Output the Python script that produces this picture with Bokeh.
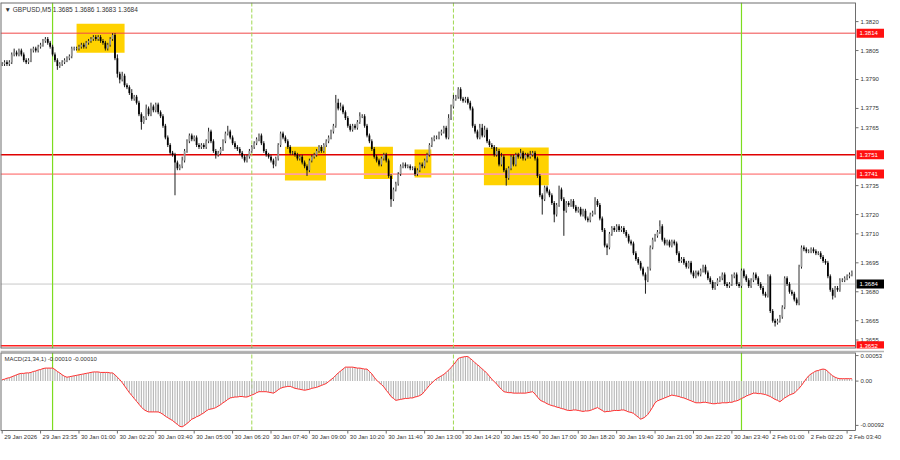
import math
from bokeh.plotting import figure
from bokeh.layouts import column
from bokeh.models import Range1d, ColumnDataSource
from bokeh.core.properties import value
from bokeh.embed import file_html
from bokeh.resources import INLINE

# ---------------- data (prices in pips above 1.3600) ----------------
BASE = 1.3600
PIP = 0.0001
first_open_pips = 198
close_pips = [
    198, 199, 198, 199, 203, 204, 203, 205, 203, 200,
    199, 200, 205, 206, 205, 207, 208, 210, 211, 209,
    207, 203, 200, 197, 198, 199, 200, 201, 202, 206,
    206, 206, 207, 208, 207, 209, 210, 211, 212, 211,
    212, 210, 209, 206, 208, 211, 213, 201, 193, 190,
    192, 187, 186, 183, 180, 181, 178, 172, 168, 170,
    175, 172, 176, 174, 177, 173, 171, 166, 160, 156,
    152, 151, 147, 144, 145, 148, 153, 158, 161, 159,
    160, 156, 155, 156, 155, 158, 163, 158, 153, 151,
    152, 154, 158, 162, 163, 160, 157, 155, 154, 152,
    150, 148, 150, 153, 155, 157, 159, 161, 157, 153,
    151, 150, 148, 146, 149, 156, 162, 160, 158, 155,
    152, 152, 151, 149, 150, 147, 145, 143, 148, 150,
    151, 153, 155, 153, 156, 158, 160, 163, 166, 178,
    175, 176, 173, 170, 166, 164, 166, 165, 168, 171,
    171, 166, 161, 158, 154, 150, 148, 146, 149, 151,
    148, 140, 128, 133, 136, 141, 145, 146, 145, 145,
    144, 144, 141, 143, 146, 145, 148, 151, 156, 159,
    160, 160, 162, 163, 165, 160, 170, 176, 180, 181,
    185, 180, 179, 180, 178, 175, 166, 163, 160, 165,
    161, 164, 158, 156, 155, 151, 153, 146, 150, 143,
    139, 144, 150, 146, 151, 150, 152, 149, 151, 150,
    151, 152, 149, 140, 130, 128, 134, 132, 130, 126,
    120, 125, 133, 128, 122, 126, 125, 127, 124, 122,
    123, 120, 122, 118, 117, 120, 121, 127, 125, 118,
    112, 104, 103, 110, 113, 112, 114, 112, 113, 111,
    109, 106, 105, 100, 97, 95, 92, 89, 86, 92,
    103, 107, 109, 111, 114, 107, 105, 106, 104, 106,
    105, 100, 96, 97, 95, 93, 95, 90, 88, 90,
    89, 91, 93, 90, 87, 85, 82, 84, 86, 87,
    89, 84, 83, 84, 88, 89, 84, 83, 91, 88,
    86, 83, 86, 89, 87, 84, 82, 79, 78, 88,
    70, 65, 64, 65, 67, 72, 87, 84, 80, 79,
    76, 74, 93, 103, 102, 101, 101, 102, 101, 100,
    100, 98, 96, 95, 88, 81, 78, 82, 81, 86,
    86, 87, 88, 89, 90,
]
upper_wick_pips = [
    1, 1, 1, 1, 1, 2, 1, 1, 1, 1, 1, 1, 1, 1, 1, 1, 1, 1, 1, 1,
    1, 1, 1, 1, 1, 1, 1, 1, 1, 1, 1, 1, 1, 1, 1, 1, 1, 1, 1, 1,
    1, 1, 1, 1, 1, 1, 1, 1, 2, 1, 2, 1, 1, 1, 2, 1, 1, 1, 1, 1,
    2, 1, 2, 1, 1, 1, 1, 1, 1, 1, 1, 1, 1, 1, 1, 2, 1, 1, 1, 1,
    1, 1, 1, 1, 1, 1, 2, 1, 1, 1, 1, 1, 1, 1, 3, 1, 1, 1, 1, 1,
    1, 1, 1, 1, 1, 1, 1, 1, 1, 1, 1, 1, 1, 1, 1, 1, 1, 1, 1, 1,
    1, 1, 1, 1, 1, 1, 1, 1, 1, 1, 1, 1, 1, 1, 1, 1, 1, 1, 1, 4,
    2, 2, 1, 1, 1, 1, 1, 1, 1, 2, 1, 1, 1, 1, 1, 1, 1, 1, 1, 1,
    1, 1, 1, 1, 1, 1, 1, 1, 1, 1, 1, 1, 1, 1, 1, 1, 1, 1, 1, 1,
    1, 1, 1, 1, 1, 1, 2, 1, 2, 1, 1, 1, 1, 1, 1, 1, 1, 1, 1, 2,
    2, 2, 1, 1, 1, 1, 2, 1, 2, 1, 1, 1, 1, 1, 1, 1, 2, 1, 1, 1,
    2, 1, 1, 1, 1, 1, 1, 1, 1, 1, 1, 1, 2, 1, 1, 1, 1, 1, 1, 1,
    1, 1, 1, 1, 1, 1, 1, 2, 1, 1, 1, 1, 1, 1, 1, 1, 1, 1, 1, 1,
    1, 1, 1, 1, 1, 1, 1, 1, 1, 1, 1, 1, 1, 1, 3, 1, 1, 1, 1, 1,
    1, 1, 1, 1, 1, 1, 1, 1, 1, 1, 1, 1, 1, 1, 1, 1, 1, 1, 1, 1,
    1, 1, 1, 1, 1, 1, 1, 1, 1, 1, 1, 1, 1, 1, 1, 1, 1, 1, 1, 1,
    1, 1, 1, 1, 1, 1, 1, 1, 1, 1, 1, 1, 1, 1, 1, 1, 1, 1, 1, 1,
    1, 1, 1, 1, 1, 1, 1, 1, 1, 1, 1, 1, 1, 1, 1,
]
lower_wick_pips = [
    1, 1, 1, 1, 1, 1, 1, 1, 1, 1, 1, 1, 1, 1, 1, 1, 1, 1, 1, 1,
    1, 1, 1, 2, 1, 1, 1, 1, 1, 1, 1, 1, 1, 1, 1, 1, 1, 1, 1, 1,
    1, 1, 1, 1, 1, 1, 1, 1, 2, 2, 1, 1, 1, 1, 1, 1, 1, 1, 4, 1,
    1, 1, 1, 1, 1, 1, 1, 1, 1, 1, 1, 1, 17, 1, 1, 1, 1, 1, 1, 1,
    1, 1, 1, 1, 1, 1, 1, 1, 1, 2, 1, 1, 1, 1, 1, 1, 1, 1, 1, 1,
    1, 1, 1, 1, 1, 1, 1, 1, 1, 1, 1, 1, 1, 2, 1, 1, 1, 1, 1, 1,
    1, 1, 1, 1, 1, 1, 1, 3, 1, 1, 1, 1, 1, 1, 1, 1, 1, 1, 1, 1,
    1, 1, 1, 1, 1, 1, 1, 1, 1, 1, 1, 1, 1, 1, 1, 1, 1, 1, 1, 1,
    1, 1, 4, 1, 1, 1, 1, 1, 1, 1, 1, 1, 1, 1, 1, 1, 1, 1, 1, 1,
    1, 1, 1, 1, 1, 1, 1, 1, 1, 1, 1, 1, 1, 1, 1, 1, 1, 1, 1, 1,
    1, 1, 1, 1, 1, 1, 1, 1, 1, 1, 4, 1, 1, 1, 1, 1, 1, 1, 1, 1,
    1, 1, 1, 1, 1, 8, 1, 1, 1, 1, 4, 1, 1, 1, 13, 1, 1, 1, 1, 1,
    1, 1, 1, 1, 1, 1, 1, 1, 1, 1, 1, 1, 4, 1, 1, 1, 1, 1, 1, 1,
    1, 1, 1, 1, 1, 1, 1, 1, 7, 1, 1, 1, 1, 1, 1, 1, 1, 1, 1, 1,
    1, 1, 1, 1, 1, 1, 1, 1, 1, 1, 1, 1, 1, 1, 1, 1, 1, 1, 1, 1,
    1, 1, 1, 1, 1, 1, 1, 1, 1, 1, 1, 1, 1, 1, 1, 1, 1, 1, 1, 1,
    1, 1, 2, 1, 1, 1, 1, 1, 1, 1, 1, 1, 1, 1, 1, 1, 1, 1, 1, 1,
    1, 1, 1, 1, 1, 1, 2, 1, 1, 1, 1, 1, 1, 1, 1,
]
# MACD(21,34,1) values in units of 0.00001
macd_e5 = [
    3, 4, 6, 7, 9, 11, 13, 15, 16, 16,
    17, 17, 18, 20, 21, 23, 24, 26, 27, 27,
    27, 27, 24, 20, 17, 13, 10, 8, 9, 10,
    11, 12, 13, 14, 15, 16, 17, 18, 19, 19,
    19, 18, 18, 18, 18, 17, 17, 13, 8, 3,
    -3, -10, -17, -24, -30, -36, -42, -48, -54, -59,
    -62, -64, -64, -64, -64, -64, -66, -69, -73, -76,
    -79, -82, -86, -90, -94, -95, -92, -88, -84, -79,
    -77, -74, -72, -69, -66, -62, -59, -58, -57, -55,
    -52, -49, -45, -42, -38, -35, -34, -33, -33, -32,
    -32, -33, -33, -31, -29, -27, -24, -22, -22, -22,
    -22, -23, -24, -25, -22, -18, -15, -13, -12, -11,
    -11, -13, -15, -16, -17, -18, -19, -18, -17, -15,
    -14, -13, -11, -9, -7, -5, -1, 3, 7, 12,
    17, 21, 25, 29, 29, 29, 29, 28, 27, 27,
    26, 25, 25, 20, 15, 8, 2, -3, -7, -12,
    -19, -25, -32, -36, -40, -39, -38, -37, -36, -36,
    -35, -35, -33, -32, -30, -27, -21, -15, -9, -4,
    1, 5, 8, 11, 14, 18, 23, 28, 34, 40,
    47, 49, 50, 51, 51, 47, 43, 38, 34, 30,
    25, 21, 16, 10, 4, -1, -6, -12, -17, -22,
    -23, -24, -24, -25, -25, -25, -25, -25, -25, -24,
    -23, -22, -27, -33, -39, -42, -44, -47, -49, -51,
    -52, -54, -55, -57, -58, -60, -61, -61, -60, -60,
    -61, -62, -63, -62, -62, -61, -59, -57, -55, -58,
    -61, -64, -63, -63, -62, -61, -61, -61, -60, -60,
    -62, -64, -65, -67, -71, -75, -79, -77, -74, -69,
    -62, -54, -45, -41, -39, -37, -35, -33, -31, -29,
    -30, -31, -32, -34, -35, -37, -39, -41, -43, -45,
    -45, -45, -44, -44, -45, -46, -47, -47, -46, -46,
    -45, -45, -45, -44, -44, -42, -41, -39, -36, -34,
    -31, -29, -27, -25, -25, -26, -26, -27, -28, -30,
    -32, -35, -38, -40, -43, -39, -35, -32, -29, -27,
    -25, -20, -15, -9, -2, 5, 11, 15, 18, 21,
    22, 24, 25, 24, 20, 15, 11, 8, 6, 5,
    5, 5, 5, 5, 5,
]
time_labels = ["29 Jan 2026", "29 Jan 23:35", "30 Jan 01:00", "30 Jan 02:20", "30 Jan 03:40",
               "30 Jan 05:00", "30 Jan 06:20", "30 Jan 07:40", "30 Jan 09:00", "30 Jan 10:20",
               "30 Jan 11:40", "30 Jan 13:00", "30 Jan 14:20", "30 Jan 15:40", "30 Jan 17:00",
               "30 Jan 18:20", "30 Jan 19:40", "30 Jan 21:00", "30 Jan 22:20", "30 Jan 23:40",
               "2 Feb 01:00", "2 Feb 02:20", "2 Feb 03:40"]
bars_per_label = 16

box_left = [31.0, 117.8, 150.7, 171.8, 200.7]
box_right = [51.0, 134.9, 162.8, 178.8, 227.7]
box_top = [1.38189, 1.37552, 1.37552, 1.37537, 1.37547]
box_bottom = [1.38039, 1.37377, 1.37385, 1.37392, 1.37352]

price_ticks = [1.3820, 1.3805, 1.3790, 1.3775, 1.3765, 1.3735, 1.3720, 1.3710,
               1.3695, 1.3680, 1.3665, 1.3655]
red_levels = [1.3814, 1.3751, 1.3741, 1.3652]
bid_level = 1.3684
macd_ticks = [0.00053, 0.0, -0.00092]
macd_tick_labels = ["0.00053", "0.00", "-0.00092"]
day_lines = [21, 308]
session_lines = [104, 188]

title_text = "\u25BC GBPUSD,M5  1.3685 1.3686 1.3683 1.3684"
macd_title = "MACD(21,34,1) -0.00010 -0.00010"

# ---------------- derived ----------------
n = len(close_pips)
assert len(upper_wick_pips) == n and len(lower_wick_pips) == n and len(macd_e5) == n
idx = list(range(n))
opens = [first_open_pips] + close_pips[:-1]
o = [BASE + v * PIP for v in opens]
c = [BASE + v * PIP for v in close_pips]
hi = [max(a, b) + u * PIP for a, b, u in zip(o, c, upper_wick_pips)]
lo = [min(a, b) - d * PIP for a, b, d in zip(o, c, lower_wick_pips)]
body_top = [max(a, b) for a, b in zip(o, c)]
body_bot = [min(a, b) if a != b else max(a, b) - 0.25 * PIP for a, b in zip(o, c)]
bull = [b >= a for a, b in zip(o, c)]

def pick(mask):
    return dict(x=[i for i, mk in zip(idx, mask) if mk],
                top=[t for t, mk in zip(body_top, mask) if mk],
                bottom=[t for t, mk in zip(body_bot, mask) if mk])

macd_vals = [v * 1e-5 for v in macd_e5]

# ---------------- geometry ----------------
FONT = value("Liberation Sans")
AX = "#6e6e6e"
TXT = "#333333"
TOTAL_W = 884
PLOT_W = 855                       # pixel width of the chart area; the rest is the price scale
X0, X_PLOT_END = -0.69, 355.5
bars_per_px = (X_PLOT_END - X0) / PLOT_W
X_END = X0 + TOTAL_W * bars_per_px
xr = Range1d(X0, X_END)

P_LO, P_HI = 1.36506, 1.38299
MAIN_FRAME_H = 346
M_LO, M_HI = -0.001026, 0.000594
MACD_PLOT_H = 78
MACD_FRAME_H = 92
macd_per_px = (M_HI - M_LO) / MACD_PLOT_H
M_FRAME_LO = M_HI - MACD_FRAME_H * macd_per_px


def style(fig, border="white"):
    fig.grid.visible = False
    fig.outline_line_color = None
    fig.background_fill_color = "white"
    fig.border_fill_color = border


# ---------------- main price panel ----------------
p = figure(width=TOTAL_W, height=MAIN_FRAME_H + 4, x_range=xr, y_range=Range1d(P_LO, P_HI),
           x_axis_location=None, y_axis_location=None, output_backend="svg",
           toolbar_location=None, min_border_left=0, min_border_right=0,
           min_border_top=2, min_border_bottom=2)
style(p)

p.quad(left=box_left, right=box_right, top=box_top, bottom=box_bottom,
       fill_color="#FFD200", line_color=None)

lvl_colors = ["#f04848", "#e00000", "#ffa0a0", "#ff2020"]
lvl_widths = [1, 1.6, 1.8, 1.4]
for lvl, col, w in zip(red_levels, lvl_colors, lvl_widths):
    p.segment(x0=[X0], x1=[X_PLOT_END], y0=[lvl], y1=[lvl], line_color=col, line_width=w)
p.segment(x0=[X0], x1=[X_PLOT_END], y0=[bid_level], y1=[bid_level], line_color="#c8c8c8", line_width=1)

for loc in day_lines:
    p.segment(x0=[loc], x1=[loc], y0=[P_LO], y1=[P_HI], line_color="#7ddc1f", line_width=1.2)
for loc in session_lines:
    p.segment(x0=[loc], x1=[loc], y0=[P_LO], y1=[P_HI], line_color="#a0d850",
              line_width=1, line_dash="4 2")

p.segment(x0=idx, x1=idx, y0=lo, y1=hi, line_color="#1e1e1e", line_width=1)
p.vbar(source=ColumnDataSource(pick(bull)), x="x", top="top", bottom="bottom", width=0.74,
       fill_color="#979797", line_color=None)
p.vbar(source=ColumnDataSource(pick([not b for b in bull])), x="x", top="top", bottom="bottom",
       width=0.74, fill_color="black", line_color=None)

# frame of the chart area
p.segment(x0=[X0, X0, X0, X_PLOT_END], x1=[X_PLOT_END, X_PLOT_END, X0, X_PLOT_END],
          y0=[P_HI, P_LO, P_LO, P_LO], y1=[P_HI, P_LO, P_HI, P_HI],
          line_color=AX, line_width=[2, 2, 2, 1])

# price scale
p.ray(x=[X_PLOT_END] * len(price_ticks), y=price_ticks, length=3, length_units="screen",
      angle=0, line_color=AX, line_width=1)
p.text(x=[X_PLOT_END] * len(price_ticks), y=price_ticks, text=[f"{t:.4f}" for t in price_ticks],
       x_offset=5, text_baseline="middle", text_align="left", text_font=FONT,
       text_font_size="6px", text_color=TXT)

box_w = TOTAL_W - PLOT_W - 1
tag_x = X_PLOT_END + (1 + box_w / 2) * bars_per_px
tag_levels = red_levels + [bid_level]
tag_fill = ["#ff1010"] * len(red_levels) + ["black"]
p.rect(x=[tag_x] * len(tag_levels), y=tag_levels, width=box_w * bars_per_px, height=9,
       height_units="screen", fill_color=tag_fill, line_color=None)
p.text(x=[X_PLOT_END] * len(tag_levels), y=tag_levels, text=[f"{t:.4f}" for t in tag_levels],
       x_offset=4, text_baseline="middle", text_align="left", text_font=FONT,
       text_font_size="6px", text_color="white")

p.text(x=[X0], y=[P_HI], text=[title_text], x_offset=4, y_offset=3, text_baseline="top",
       text_align="left", text_font=FONT, text_font_size="6.5px", text_color=TXT)

# ---------------- MACD panel ----------------
m = figure(width=TOTAL_W, height=MACD_FRAME_H + 2, x_range=xr, y_range=Range1d(M_FRAME_LO, M_HI),
           x_axis_location=None, y_axis_location=None, output_backend="svg",
           toolbar_location=None, min_border_left=0, min_border_right=0,
           min_border_top=2, min_border_bottom=0)
style(m, border="#b4b4b4")

for loc in day_lines:
    m.segment(x0=[loc], x1=[loc], y0=[M_LO], y1=[M_HI], line_color="#7ddc1f", line_width=1.2)
for loc in session_lines:
    m.segment(x0=[loc], x1=[loc], y0=[M_LO], y1=[M_HI], line_color="#a0d850",
              line_width=1, line_dash="4 2")

m.vbar(x=idx, top=macd_vals, bottom=0, width=0.45, fill_color="#b4b4b4", line_color=None)
m.line(x=idx, y=macd_vals, line_color="#ff3030", line_width=1)

m.segment(x0=[X0, X0, X0, X_PLOT_END], x1=[X_PLOT_END, X_PLOT_END, X0, X_PLOT_END],
          y0=[M_HI, M_LO, M_LO, M_LO], y1=[M_HI, M_LO, M_HI, M_HI],
          line_color=AX, line_width=[2, 1, 2, 1])

m.ray(x=[X_PLOT_END] * len(macd_ticks), y=macd_ticks, length=3, length_units="screen",
      angle=0, line_color=AX, line_width=1)
m.text(x=[X_PLOT_END] * len(macd_ticks), y=macd_ticks, text=macd_tick_labels,
       x_offset=5, text_baseline="middle", text_align="left", text_font=FONT,
       text_font_size="6px", text_color=TXT)

tick_idx = [k * bars_per_label for k in range(len(time_labels))]
m.ray(x=tick_idx, y=[M_LO] * len(tick_idx), length=3, length_units="screen",
      angle=-math.pi / 2, line_color=AX, line_width=1)
m.text(x=tick_idx, y=[M_LO] * len(tick_idx), text=time_labels, x_offset=2, y_offset=3,
       text_baseline="top", text_align="left", text_font=FONT, text_font_size="6px",
       text_color=TXT)

m.text(x=[X0], y=[M_HI], text=[macd_title], x_offset=4, y_offset=3, text_baseline="top",
       text_align="left", text_font=FONT, text_font_size="6px", text_color=TXT)

layout = column(p, m, spacing=0)
open("out.html", "w").write(file_html(layout, INLINE))
